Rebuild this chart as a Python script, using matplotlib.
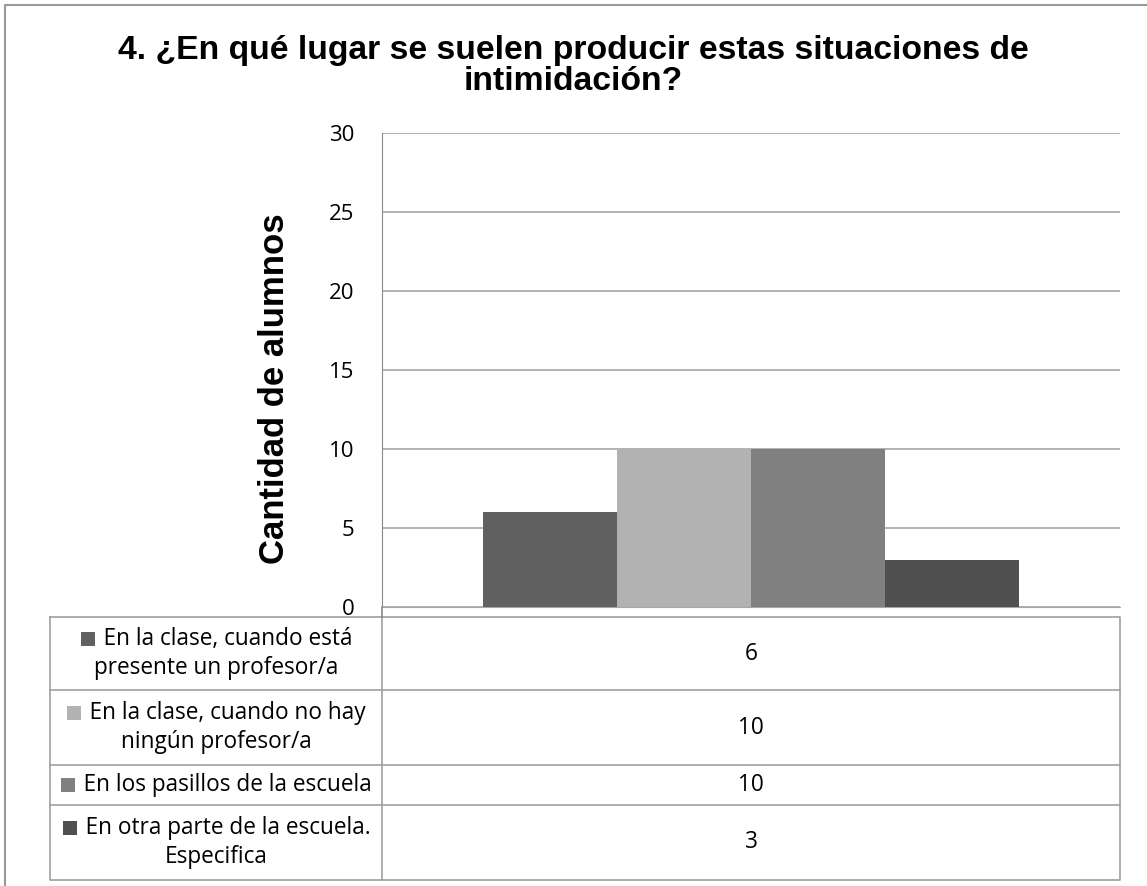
import matplotlib.pyplot as plt
from matplotlib.patches import Rectangle

categories = [
    "En la clase, cuando está\npresente un profesor/a",
    "En la clase, cuando no hay\nningún profesor/a",
    "En los pasillos de la escuela",
    "En otra parte de la escuela.\nEspecifica",
]
values = [6, 10, 10, 3]
colors = ["#606060", "#b2b2b2", "#808080", "#505050"]
yticks = [0, 5, 10, 15, 20, 25, 30]

W, H = 1147, 886
fig = plt.figure(figsize=(W / 100, H / 100), dpi=100)


def box(x0, y0, x1, y1):
    # pixel box (top-left origin) -> figure fraction rect
    return [x0 / W, 1 - y1 / H, (x1 - x0) / W, (y1 - y0) / H]


fig.text(0.5, 1 - 66 / H, "4. ¿En qué lugar se suelen producir estas situaciones de\nintimidación?",
         ha="center", va="center", fontsize=24.3, fontweight="bold",
         family="Liberation Sans", linespacing=1.0)

ax = fig.add_axes(box(382, 133, 1120, 607))
group = 0.726
bw = group / len(values)
for i, (v, c) in enumerate(zip(values, colors)):
    ax.bar((i - 1.5) * bw, v, width=bw, color=c, zorder=3)
ax.set_xlim(-0.5, 0.5)
ax.set_ylim(0, 30)
ax.set_yticks(yticks)
ax.set_yticklabels([str(t) for t in yticks], fontsize=16, family="Open Sans")
ax.tick_params(axis="y", length=0, pad=20)
ax.set_xticks([])
ax.grid(axis="y", color="#a6a6a6", linewidth=1.2, zorder=0)
for s in ["top", "right"]:
    ax.spines[s].set_visible(False)
ax.spines["left"].set_color("#888888")
ax.spines["bottom"].set_color("#a6a6a6")
ax.set_ylabel("Cantidad de alumnos", fontsize=25, fontweight="bold",
              family="Liberation Sans")
ax.yaxis.set_label_coords(-0.123, 0.46)

# overlay axes in pixel coordinates for the data table and chart border
tax = fig.add_axes(box(0, 0, W, H))
tax.set_xlim(0, W)
tax.set_ylim(H, 0)
tax.axis("off")
tax.plot([5, 5, W + 5], [H + 5, 5, 5], color="#999999", lw=1.5)

tx0, tx1, split = 50, 1120, 382
rows = [617, 690, 765, 805, 880]
lc = "#a0a0a0"
tax.plot([tx0, tx1, tx1, tx0, tx0], [rows[0], rows[0], rows[-1], rows[-1], rows[0]], color=lc, lw=1.2)
tax.plot([split, split], [rows[0], rows[-1]], color=lc, lw=1.2)
tax.plot([split, split], [607, rows[0]], color="#888888", lw=1.2)
for y in rows[1:-1]:
    tax.plot([tx0, tx1], [y, y], color=lc, lw=1.2)

renderer = fig.canvas.get_renderer()
cx = (tx0 + split) / 2
fs = 16.3
lsp = 29
for i, (cat, v, c) in enumerate(zip(categories, values, colors)):
    ym = (rows[i] + rows[i + 1]) / 2
    lines = cat.split("\n")
    y0 = ym - (len(lines) - 1) * lsp / 2
    for j, line in enumerate(lines):
        txt = ("    " + line) if j == 0 else line
        t = tax.text(cx, y0 + j * lsp, txt, ha="center", va="center",
                     fontsize=fs, family="Open Sans")
        if j == 0:
            bb = t.get_window_extent(renderer).transformed(tax.transData.inverted())
            left = min(bb.x0, bb.x1)
            tax.add_patch(Rectangle((left + 1, y0 - 7), 14, 14, color=c, lw=0))
    tax.text((split + tx1) / 2, ym, str(v), ha="center", va="center",
             fontsize=fs, family="Open Sans")

fig.savefig("out.png", dpi=100)
